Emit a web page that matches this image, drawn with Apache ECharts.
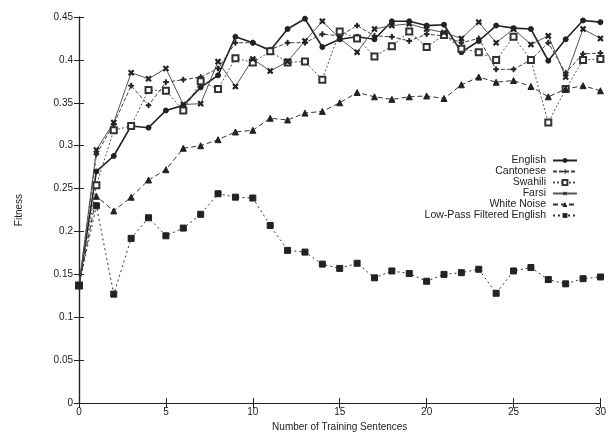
<!DOCTYPE html>
<html>
<head>
<meta charset="utf-8">
<script src="https://cdn.jsdelivr.net/npm/echarts@6/dist/echarts.min.js"></script>
<style>
  html, body { margin: 0; padding: 0; background: #fff; }
  #chart { width: 609px; height: 437px; }
</style>
</head>
<body>
<div id="chart"></div>
<script>
// training sentences 0..30
var sentences = [];
for (var i = 0; i <= 30; i++) sentences.push(i);

var english = [0.137, 0.270, 0.288, 0.323, 0.321, 0.341, 0.347, 0.368, 0.382, 0.427, 0.420,
  0.411, 0.436, 0.448, 0.415, 0.424, 0.427, 0.424, 0.445, 0.445, 0.440,
  0.441, 0.409, 0.422, 0.440, 0.437, 0.436, 0.399, 0.424, 0.446, 0.444];
var cantonese = [0.137, 0.290, 0.325, 0.370, 0.347, 0.374, 0.377, 0.380, 0.390, 0.420, 0.420,
  0.412, 0.420, 0.420, 0.430, 0.428, 0.440, 0.428, 0.427, 0.422, 0.430,
  0.428, 0.420, 0.425, 0.389, 0.389, 0.400, 0.420, 0.385, 0.407, 0.408];
var swahili = [0.137, 0.254, 0.318, 0.323, 0.365, 0.364, 0.341, 0.375, 0.366, 0.402, 0.397,
  0.410, 0.397, 0.398, 0.377, 0.433, 0.425, 0.404, 0.416, 0.433, 0.415,
  0.429, 0.413, 0.409, 0.400, 0.427, 0.400, 0.327, 0.366, 0.400, 0.401];
var farsi = [0.137, 0.295, 0.327, 0.385, 0.378, 0.390, 0.348, 0.349, 0.398, 0.369, 0.401,
  0.387, 0.398, 0.422, 0.445, 0.425, 0.409, 0.436, 0.440, 0.442, 0.436,
  0.432, 0.425, 0.444, 0.420, 0.436, 0.418, 0.428, 0.380, 0.436, 0.425];
var whiteNoise = [0.137, 0.241, 0.224, 0.240, 0.260, 0.272, 0.297, 0.300, 0.307, 0.316, 0.318,
  0.332, 0.330, 0.338, 0.340, 0.350, 0.362, 0.357, 0.354, 0.357, 0.358,
  0.355, 0.371, 0.380, 0.374, 0.376, 0.369, 0.357, 0.366, 0.370, 0.364];
var lowPass = [0.137, 0.230, 0.127, 0.192, 0.216, 0.195, 0.204, 0.220, 0.244, 0.240, 0.239,
  0.207, 0.178, 0.176, 0.162, 0.157, 0.163, 0.146, 0.154, 0.151, 0.142,
  0.150, 0.152, 0.156, 0.128, 0.154, 0.158, 0.144, 0.139, 0.145, 0.147];

var seriesNames = ['English', 'Cantonese', 'Swahili', 'Farsi', 'White Noise', 'Low-Pass Filtered English'];

var plusPath = 'path://M4,0H6V4H10V6H6V10H4V6H0V4H4Z';
var ink = '#222';

function pairs(vals) {
  return vals.map(function (v, i) { return [sentences[i], v]; });
}

function mk(name, vals, line, symbol, size, extra) {
  var s = {
    name: name,
    type: 'line',
    data: pairs(vals),
    symbol: symbol,
    symbolSize: size,
    showAllSymbol: true,
    animation: false,
    lineStyle: line,
    itemStyle: { color: ink, borderColor: ink },
    emphasis: { disabled: true }
  };
  for (var k in extra) s[k] = extra[k];
  return s;
}

var series = [
  mk('English', english, { color: ink, width: 1.6, type: 'solid' }, 'circle', 5, {}),
  mk('Cantonese', cantonese, { color: '#444', width: 1, type: [4, 2] }, plusPath, 5, {}),
  mk('Swahili', swahili, { color: '#555', width: 1, type: [2, 2] }, 'emptyRect', 6,
     { itemStyle: { color: '#333', borderWidth: 1 } }),
  mk('Farsi', farsi, { color: '#555', width: 1, type: 'solid' }, plusPath, 6, { symbolRotate: 45 }),
  mk('White Noise', whiteNoise, { color: '#333', width: 1, type: [5, 3] }, 'triangle', 6, {}),
  mk('Low-Pass Filtered English', lowPass, { color: '#333', width: 1, type: [2, 3] }, 'rect', 6, {})
];

var font = 'Liberation Sans';
var chart = echarts.init(document.getElementById('chart'));
chart.setOption({
  backgroundColor: '#fff',
  animation: false,
  textStyle: { fontFamily: font },
  grid: { left: 79, right: 6, top: 17, bottom: 30 },
  legend: {
    data: seriesNames,
    orient: 'vertical',
    right: 26,
    top: 150,
    align: 'right',
    itemGap: 0,
    itemWidth: 24,
    itemHeight: 6,
    textStyle: { fontFamily: font, fontSize: 10.5, color: ink, padding: [0, 2, 0, 0] }
  },
  xAxis: [{
    type: 'value', min: 0, max: 30, interval: 5,
    name: 'Number of Training Sentences',
    nameLocation: 'middle', nameGap: 13,
    nameTextStyle: { fontFamily: font, fontSize: 10, color: ink },
    axisLine: { onZero: false, lineStyle: { color: ink, width: 1.2 } },
    axisTick: { inside: true, length: 5, lineStyle: { color: ink } },
    axisLabel: { fontSize: 10, color: ink, margin: 4 },
    splitLine: { show: false }
  }, {
    type: 'value', min: 0, max: 30, interval: 5, position: 'top',
    axisLine: { show: true, lineStyle: { color: ink, width: 1.2 } },
    axisTick: { inside: true, length: 5, lineStyle: { color: ink } },
    axisLabel: { show: false },
    splitLine: { show: false }
  }],
  yAxis: [{
    type: 'value', min: 0, max: 0.45, interval: 0.05,
    name: 'Fitness',
    nameLocation: 'middle', nameGap: 55,
    nameTextStyle: { fontFamily: font, fontSize: 10, color: ink },
    axisLine: { show: true, onZero: false, lineStyle: { color: ink, width: 1.2 } },
    axisTick: { show: true, inside: true, length: 5, lineStyle: { color: ink } },
    axisLabel: {
      fontSize: 10, color: ink, margin: 6,
      formatter: function (v) { return String(+v.toFixed(2)); }
    },
    splitLine: { show: false }
  }, {
    type: 'value', min: 0, max: 0.45, interval: 0.05, position: 'right',
    axisLine: { show: true, lineStyle: { color: ink, width: 1.2 } },
    axisTick: { show: true, inside: true, length: 5, lineStyle: { color: ink } },
    axisLabel: { show: false },
    splitLine: { show: false }
  }],
  series: series
});
</script>
</body>
</html>
